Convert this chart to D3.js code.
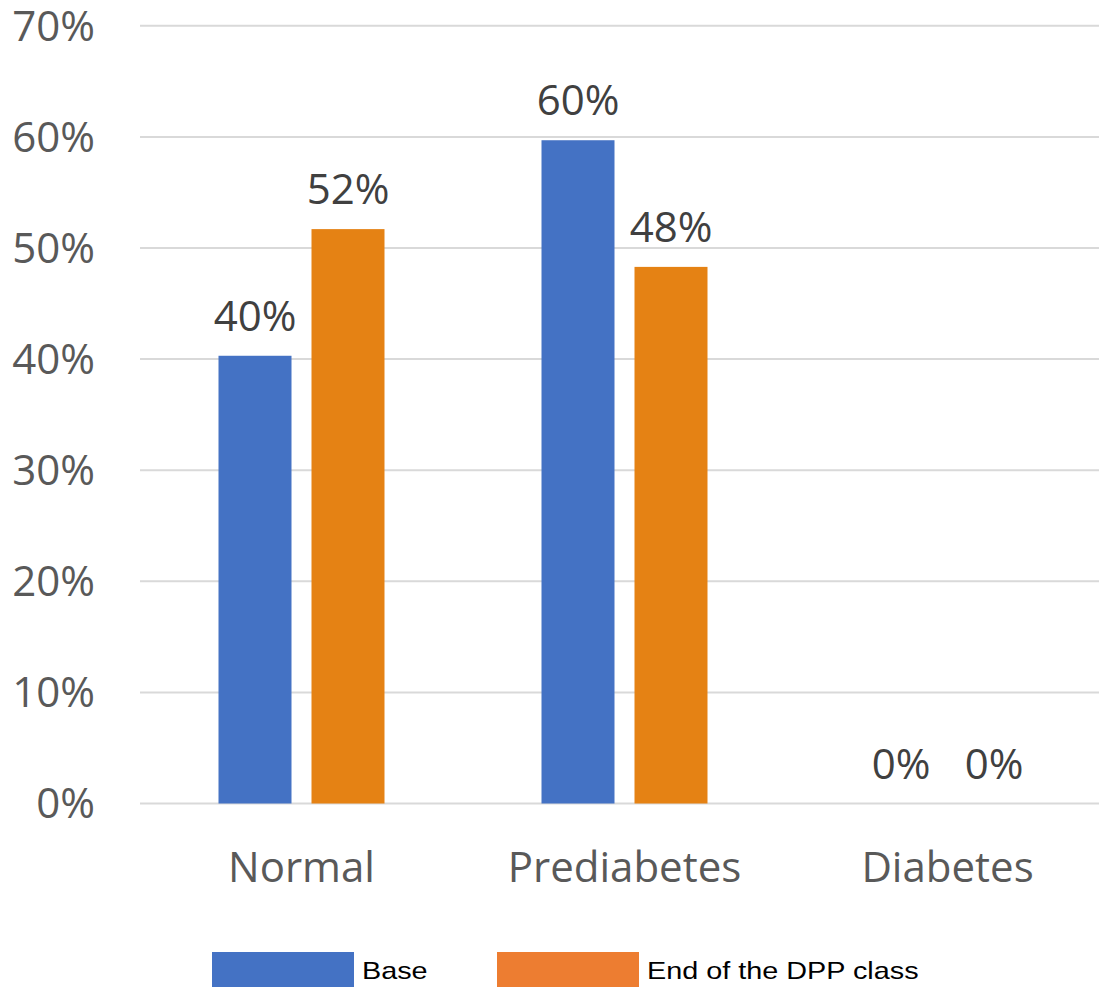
<!DOCTYPE html>
<html>
<head>
<meta charset="utf-8">
<script src="https://cdn.jsdelivr.net/npm/d3@7"></script>
<style>
  html, body { margin: 0; padding: 0; background: #fff; overflow: hidden; }
  svg { display: block; }
</style>
</head>
<body>
<script>
// Share of participants by glucose status, before and after the DPP class
const categories = ["Normal", "Prediabetes", "Diabetes"];
const seriesNames = ["Base", "End of the DPP class"];
const baseValues = [0.403, 0.597, 0.0];
const endValues = [0.517, 0.483, 0.0];
const yTicks = [0, 0.1, 0.2, 0.3, 0.4, 0.5, 0.6, 0.7];

const barColors = ["#4472C4", "#E58214"];
const legendColors = ["#4472C4", "#ED7D31"];

const W = 1099, H = 987;
const svg = d3.select("body").append("svg").attr("width", W).attr("height", H);

const plot = { left: 140, right: 1109, top: 25.8, bottom: 803.5 };

const x = d3.scaleBand().domain(categories).range([plot.left, plot.right]).padding(0);
const y = d3.scaleLinear().domain([0, 0.7]).range([plot.bottom, plot.top]);

const pct = d3.format(".0%");
const barW = 73, gap = 20;
const fontMain = "'Open Sans', sans-serif";

// Horizontal gridlines
svg.append("g").selectAll("line").data(yTicks).join("line")
  .attr("x1", plot.left).attr("x2", plot.right)
  .attr("y1", d => y(d)).attr("y2", d => y(d))
  .attr("stroke", "#D9D9D9").attr("stroke-width", 2);

// Y axis tick labels
const yAxis = d3.axisLeft(y).tickValues(yTicks).tickFormat(pct).tickSize(0).tickPadding(0);
const gy = svg.append("g").attr("transform", "translate(95,0)").call(yAxis);
gy.select(".domain").remove();
gy.selectAll("text")
  .attr("font-family", fontMain)
  .attr("font-size", 42)
  .attr("fill", "#595959")
  .attr("dy", "0.34em");

// X axis category labels
const xAxis = d3.axisBottom(x).tickSize(0).tickPadding(0);
const gx = svg.append("g").attr("transform", `translate(0,${plot.bottom})`).call(xAxis);
gx.select(".domain").remove();
gx.selectAll("text")
  .attr("y", 78)
  .attr("dy", 0)
  .attr("font-family", fontMain)
  .attr("font-size", 42)
  .attr("fill", "#595959");

// Bars
const rows = categories.map((c, i) => ({ c, vals: [baseValues[i], endValues[i]] }));
const barX = (c, s) => x(c) + x.bandwidth() / 2 + (s === 0 ? -gap / 2 - barW : gap / 2);

const groups = svg.append("g").selectAll("g").data(rows).join("g");
groups.selectAll("rect").data(d => d.vals.map((v, s) => ({ c: d.c, v, s }))).join("rect")
  .attr("x", d => barX(d.c, d.s))
  .attr("width", barW)
  .attr("y", d => y(d.v))
  .attr("height", d => y(0) - y(d.v))
  .attr("fill", d => barColors[d.s]);

// Value labels above bars
groups.selectAll("text").data(d => d.vals.map((v, s) => ({ c: d.c, v, s }))).join("text")
  .attr("x", d => barX(d.c, d.s) + barW / 2)
  .attr("y", d => y(d.v) - 25)
  .attr("text-anchor", "middle")
  .attr("font-family", fontMain)
  .attr("font-size", 42)
  .attr("fill", "#404040")
  .text(d => pct(d.v));

// Legend
const legendX = [212, 497];
const legend = svg.append("g").selectAll("g").data(seriesNames).join("g");
legend.append("rect")
  .attr("x", (d, i) => legendX[i]).attr("y", 952)
  .attr("width", 142).attr("height", 40)
  .attr("fill", (d, i) => legendColors[i]);
legend.append("text")
  .attr("transform", (d, i) => `translate(${legendX[i] + 150},979) scale(1.2,1)`)
  .attr("font-family", "'Liberation Sans', Arial, sans-serif")
  .attr("font-size", 24)
  .attr("fill", "#000")
  .text(d => d);
</script>
</body>
</html>
